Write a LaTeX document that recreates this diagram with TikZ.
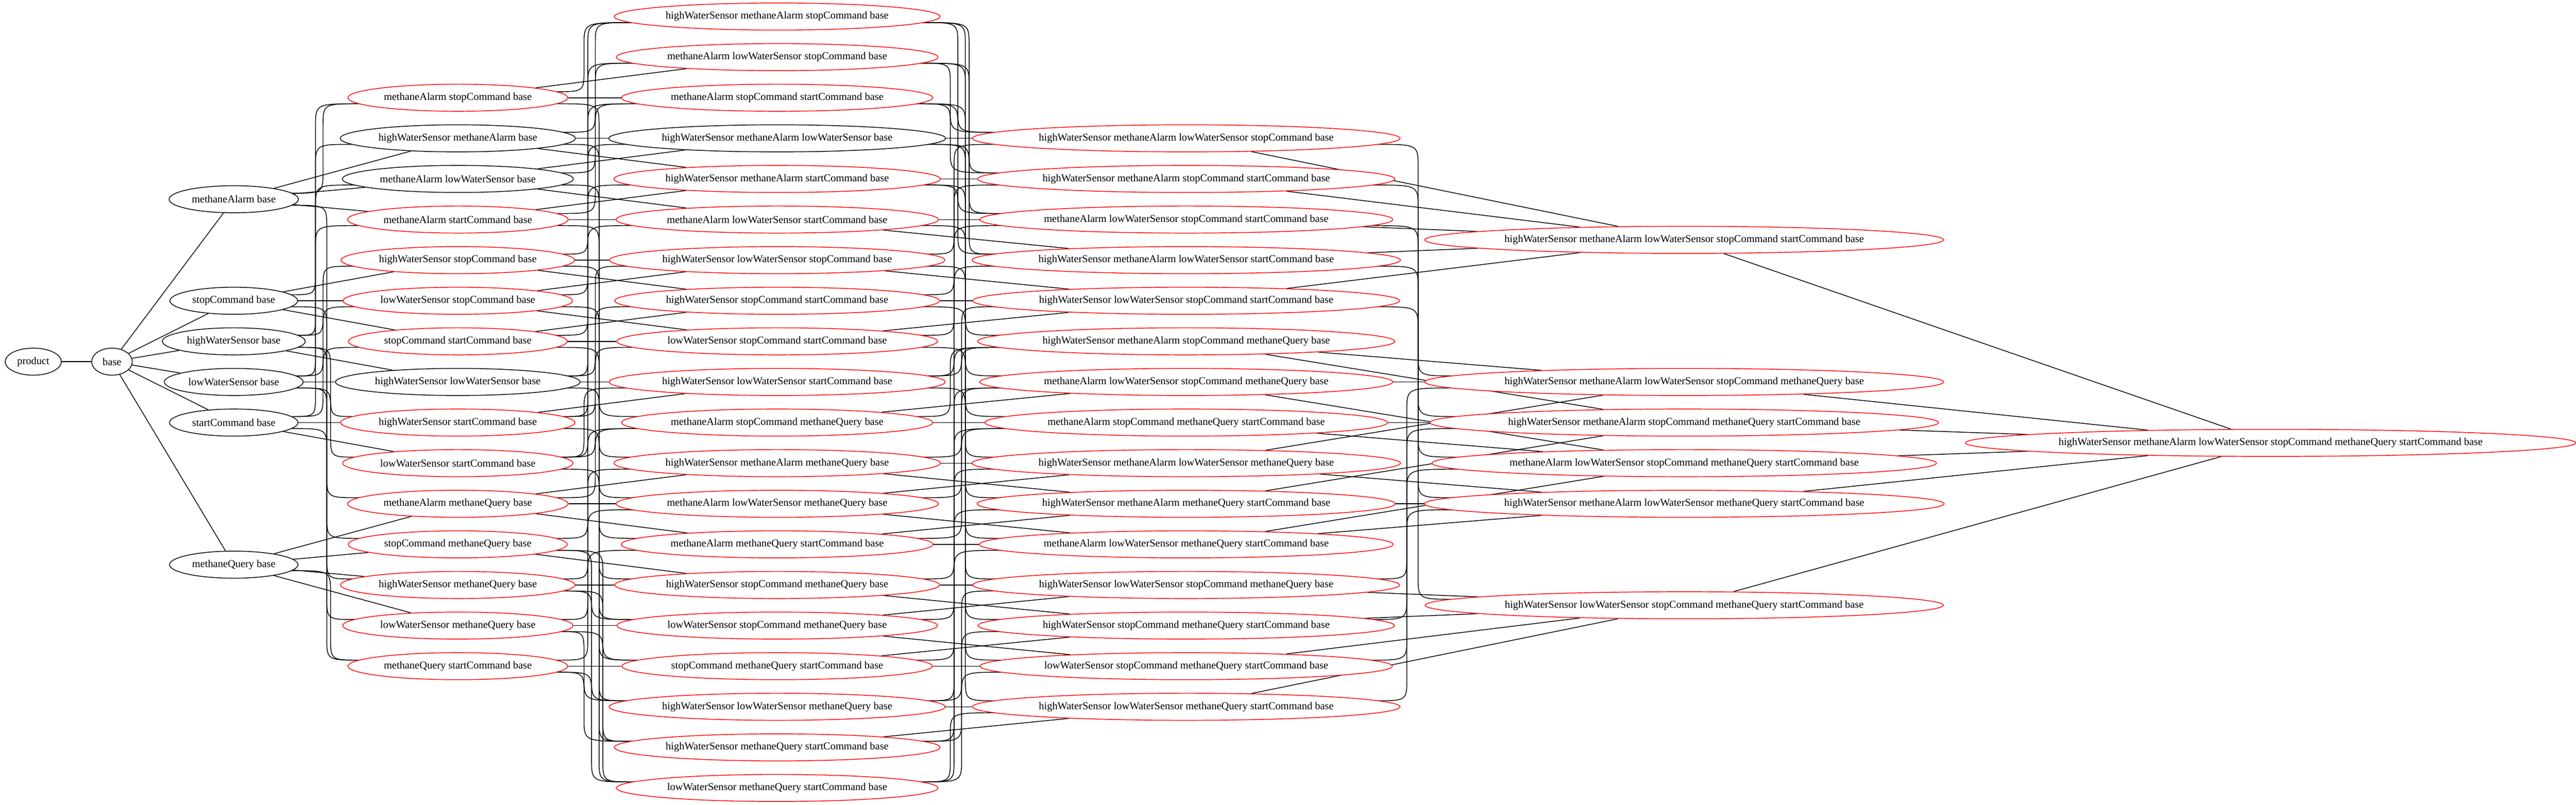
\documentclass[tikz,border=0pt]{standalone}
\usepackage{fontspec}
\setmainfont{Liberation Serif}
\usetikzlibrary{shapes.geometric,calc}
\pgfdeclarelayer{bg}
\pgfsetlayers{bg,main}
\newdimen\mya
\newdimen\myb
% #1 source, #2 target, #3 rank of source, #4 index of the added feature
\newcommand\mylink[4]{%
 \ifnum#3=0 \draw[lnk] (#1) -- (#2);%
 \else\ifnum#3=5 \draw[lnk] (#1) -- (#2);%
 \else
  \pgfextracty{\mya}{\pgfpointanchor{#1}{center}}%
  \pgfextracty{\myb}{\pgfpointanchor{#2}{center}}%
  \advance\myb by -\mya
  \ifdim\myb<0pt \def\mydn{1}\myb=-\myb\else\def\mydn{0}\fi
  \ifnum#3=4 \def\mythr{140pt}\else\def\mythr{100pt}\fi
  \ifdim\myb<\mythr
   \draw[lnk] (#1) -- (#2);%
  \else
   \ifcase#3 \def\mychx{0}\or\def\mychx{427}\or\def\mychx{789}\or\def\mychx{1276}\or\def\mychx{1878}\fi
   \pgfmathsetmacro\myxm{\mychx+(#4-2.5)*5}%
   \ifnum\mydn=1
    \draw[lnk] let \p1=($(#1.east)!0.12!(#1.center)+(0,8)$), \p2=($(#2.west)!0.12!(#2.center)+(0,-8)$) in
      (\p1) .. controls (\myxm pt,\y1) .. (\myxm pt,\y1-30pt) -- (\myxm pt,\y2+30pt) .. controls (\myxm pt,\y2) .. (\p2);%
   \else
    \draw[lnk] let \p1=($(#1.east)!0.12!(#1.center)+(0,-8)$), \p2=($(#2.west)!0.12!(#2.center)+(0,8)$) in
      (\p1) .. controls (\myxm pt,\y1) .. (\myxm pt,\y1+30pt) -- (\myxm pt,\y2-30pt) .. controls (\myxm pt,\y2) .. (\p2);%
   \fi
  \fi
 \fi\fi}
\begin{document}
\begin{tikzpicture}[x=1pt,y=-1pt,
  nd/.style={ellipse,draw=black,line width=1pt,fill=white,inner xsep=5pt,inner ysep=0pt,
             minimum height=36pt,minimum width=54pt,font=\fontsize{14}{16}\selectfont},
  rn/.style={nd,draw=red},
  lnk/.style={line width=1pt,black}]
\path[use as bounding box] (0,0) rectangle (3425,1070);
% column 0,1
\node[nd] (prod) at (44.2,481) {product};
\node[nd] (n000000) at (148.9,481) {base};
% singles
\node[nd] (n010000) at (310.8,265) {methaneAlarm base};
\node[nd] (n000100) at (310.8,400) {stopCommand base};
\node[nd] (n100000) at (310.8,454) {highWaterSensor base};
\node[nd] (n001000) at (310.8,508) {lowWaterSensor base};
\node[nd] (n000001) at (310.8,562) {startCommand base};
\node[nd] (n000010) at (310.8,751) {methaneQuery base};
% pairs
\node[rn] (n010100) at (608.7,130) {methaneAlarm stopCommand base};
\node[nd] (n110000) at (608.7,184) {highWaterSensor methaneAlarm base};
\node[nd] (n011000) at (608.7,238) {methaneAlarm lowWaterSensor base};
\node[rn] (n010001) at (608.7,292) {methaneAlarm startCommand base};
\node[rn] (n100100) at (608.7,346) {highWaterSensor stopCommand base};
\node[rn] (n001100) at (608.7,400) {lowWaterSensor stopCommand base};
\node[rn] (n000101) at (608.7,454) {stopCommand startCommand base};
\node[nd] (n101000) at (608.7,508) {highWaterSensor lowWaterSensor base};
\node[rn] (n100001) at (608.7,562) {highWaterSensor startCommand base};
\node[rn] (n001001) at (608.7,616) {lowWaterSensor startCommand base};
\node[rn] (n010010) at (608.7,670) {methaneAlarm methaneQuery base};
\node[rn] (n000110) at (608.7,724) {stopCommand methaneQuery base};
\node[rn] (n100010) at (608.7,778) {highWaterSensor methaneQuery base};
\node[rn] (n001010) at (608.7,832) {lowWaterSensor methaneQuery base};
\node[rn] (n000011) at (608.7,886) {methaneQuery startCommand base};
% triples
\node[rn] (n110100) at (1033.3,22) {highWaterSensor methaneAlarm stopCommand base};
\node[rn] (n011100) at (1033.3,76) {methaneAlarm lowWaterSensor stopCommand base};
\node[rn] (n010101) at (1033.3,130) {methaneAlarm stopCommand startCommand base};
\node[nd] (n111000) at (1033.3,184) {highWaterSensor methaneAlarm lowWaterSensor base};
\node[rn] (n110001) at (1033.3,238) {highWaterSensor methaneAlarm startCommand base};
\node[rn] (n011001) at (1033.3,292) {methaneAlarm lowWaterSensor startCommand base};
\node[rn] (n101100) at (1033.3,346) {highWaterSensor lowWaterSensor stopCommand base};
\node[rn] (n100101) at (1033.3,400) {highWaterSensor stopCommand startCommand base};
\node[rn] (n001101) at (1033.3,454) {lowWaterSensor stopCommand startCommand base};
\node[rn] (n101001) at (1033.3,508) {highWaterSensor lowWaterSensor startCommand base};
\node[rn] (n010110) at (1033.3,562) {methaneAlarm stopCommand methaneQuery base};
\node[rn] (n110010) at (1033.3,616) {highWaterSensor methaneAlarm methaneQuery base};
\node[rn] (n011010) at (1033.3,670) {methaneAlarm lowWaterSensor methaneQuery base};
\node[rn] (n010011) at (1033.3,724) {methaneAlarm methaneQuery startCommand base};
\node[rn] (n100110) at (1033.3,778) {highWaterSensor stopCommand methaneQuery base};
\node[rn] (n001110) at (1033.3,832) {lowWaterSensor stopCommand methaneQuery base};
\node[rn] (n000111) at (1033.3,886) {stopCommand methaneQuery startCommand base};
\node[rn] (n101010) at (1033.3,940) {highWaterSensor lowWaterSensor methaneQuery base};
\node[rn] (n100011) at (1033.3,994) {highWaterSensor methaneQuery startCommand base};
\node[rn] (n001011) at (1033.3,1048) {lowWaterSensor methaneQuery startCommand base};
% quadruples
\node[rn] (n111100) at (1577.2,184) {highWaterSensor methaneAlarm lowWaterSensor stopCommand base};
\node[rn] (n110101) at (1577.2,238) {highWaterSensor methaneAlarm stopCommand startCommand base};
\node[rn] (n011101) at (1577.2,292) {methaneAlarm lowWaterSensor stopCommand startCommand base};
\node[rn] (n111001) at (1577.2,346) {highWaterSensor methaneAlarm lowWaterSensor startCommand base};
\node[rn] (n101101) at (1577.2,400) {highWaterSensor lowWaterSensor stopCommand startCommand base};
\node[rn] (n110110) at (1577.2,454) {highWaterSensor methaneAlarm stopCommand methaneQuery base};
\node[rn] (n011110) at (1577.2,508) {methaneAlarm lowWaterSensor stopCommand methaneQuery base};
\node[rn] (n010111) at (1577.2,562) {methaneAlarm stopCommand methaneQuery startCommand base};
\node[rn] (n111010) at (1577.2,616) {highWaterSensor methaneAlarm lowWaterSensor methaneQuery base};
\node[rn] (n110011) at (1577.2,670) {highWaterSensor methaneAlarm methaneQuery startCommand base};
\node[rn] (n011011) at (1577.2,724) {methaneAlarm lowWaterSensor methaneQuery startCommand base};
\node[rn] (n101110) at (1577.2,778) {highWaterSensor lowWaterSensor stopCommand methaneQuery base};
\node[rn] (n100111) at (1577.2,832) {highWaterSensor stopCommand methaneQuery startCommand base};
\node[rn] (n001111) at (1577.2,886) {lowWaterSensor stopCommand methaneQuery startCommand base};
\node[rn] (n101011) at (1577.2,940) {highWaterSensor lowWaterSensor methaneQuery startCommand base};
% quintuples
\node[rn] (n111101) at (2239.3,319) {highWaterSensor methaneAlarm lowWaterSensor stopCommand startCommand base};
\node[rn] (n111110) at (2239.3,508) {highWaterSensor methaneAlarm lowWaterSensor stopCommand methaneQuery base};
\node[rn] (n110111) at (2239.3,562) {highWaterSensor methaneAlarm stopCommand methaneQuery startCommand base};
\node[rn] (n011111) at (2239.3,616) {methaneAlarm lowWaterSensor stopCommand methaneQuery startCommand base};
\node[rn] (n111011) at (2239.3,670) {highWaterSensor methaneAlarm lowWaterSensor methaneQuery startCommand base};
\node[rn] (n101111) at (2239.3,805) {highWaterSensor lowWaterSensor stopCommand methaneQuery startCommand base};
% all
\node[rn] (n111111) at (3019,589) {highWaterSensor methaneAlarm lowWaterSensor stopCommand methaneQuery startCommand base};
% connectors
\begin{pgfonlayer}{bg}
\draw[lnk] (prod) -- (n000000);
\foreach \xa in {0,1}{\foreach \xb in {0,1}{\foreach \xc in {0,1}{%
\foreach \xd in {0,1}{\foreach \xe in {0,1}{\foreach \xf in {0,1}{%
  \pgfmathtruncatemacro\rk{\xa+\xb+\xc+\xd+\xe+\xf}%
  \ifnum\xa=0 \mylink{n\xa\xb\xc\xd\xe\xf}{n1\xb\xc\xd\xe\xf}{\rk}{0}\fi
  \ifnum\xb=0 \mylink{n\xa\xb\xc\xd\xe\xf}{n\xa1\xc\xd\xe\xf}{\rk}{1}\fi
  \ifnum\xc=0 \mylink{n\xa\xb\xc\xd\xe\xf}{n\xa\xb1\xd\xe\xf}{\rk}{2}\fi
  \ifnum\xd=0 \mylink{n\xa\xb\xc\xd\xe\xf}{n\xa\xb\xc1\xe\xf}{\rk}{3}\fi
  \ifnum\xe=0 \mylink{n\xa\xb\xc\xd\xe\xf}{n\xa\xb\xc\xd1\xf}{\rk}{4}\fi
  \ifnum\xf=0 \mylink{n\xa\xb\xc\xd\xe\xf}{n\xa\xb\xc\xd\xe1}{\rk}{5}\fi
}}}}}}
\end{pgfonlayer}
\end{tikzpicture}
\end{document}
